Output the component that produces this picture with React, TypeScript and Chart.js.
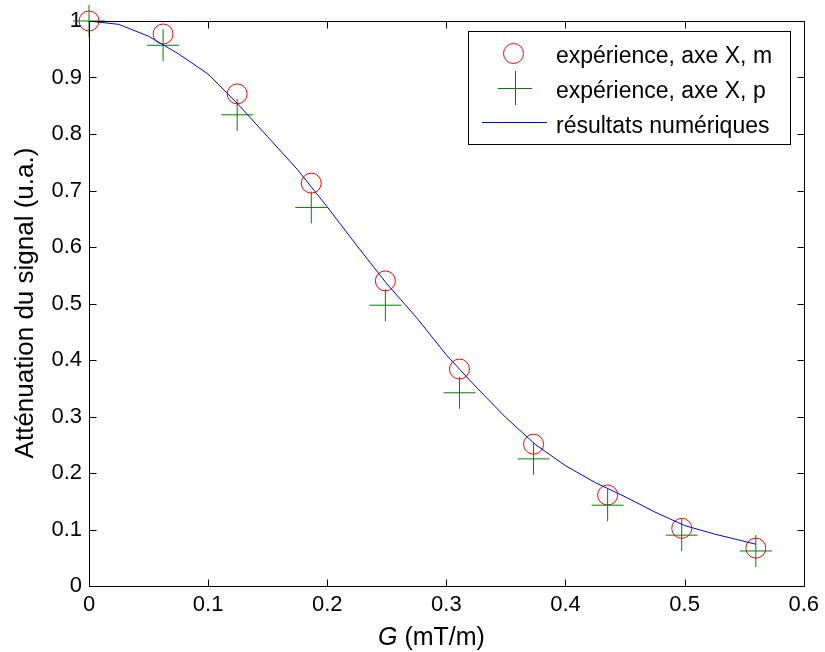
import React, { useEffect, useRef } from "react";
import { Chart, registerables } from "chart.js";

Chart.register(...registerables);

// ---- Data ----
const gValues = [0, 0.0622, 0.1244, 0.1866, 0.2488, 0.311, 0.3732, 0.4354, 0.4976, 0.5598];
const expM = [1.0, 0.977, 0.871, 0.713, 0.54, 0.384, 0.251, 0.161, 0.102, 0.067];
const expP = [1.0, 0.957, 0.834, 0.67, 0.497, 0.342, 0.225, 0.143, 0.09, 0.062];

const simG = [0, 0.025, 0.05, 0.075, 0.1, 0.125, 0.15, 0.175, 0.2, 0.225, 0.25, 0.275, 0.3, 0.325, 0.35, 0.375, 0.4, 0.425, 0.45, 0.475, 0.5, 0.525, 0.5598];
const simVal = [1.0, 0.994, 0.973, 0.942, 0.906, 0.853, 0.795, 0.737, 0.671, 0.602, 0.535, 0.475, 0.409, 0.352, 0.298, 0.25, 0.213, 0.183, 0.158, 0.131, 0.107, 0.092, 0.074];

const xTicks = [0, 0.1, 0.2, 0.3, 0.4, 0.5, 0.6];
const yTicks = [0, 0.1, 0.2, 0.3, 0.4, 0.5, 0.6, 0.7, 0.8, 0.9, 1];

const seriesLabels = ["expérience, axe X, m", "expérience, axe X, p", "résultats numériques"];
const xTitleItalic = "G";
const xTitleRest = " (mT/m)";
const yTitle = "Atténuation du signal (u.a.)";

const FONT = "'Liberation Sans', Arial, Helvetica, sans-serif";
const RED = "#ff0000";
const GREEN = "#008000";
const BLUE = "#0000ff";

const fmt = (v: number) => String(Math.round(v * 10) / 10);

const matlabPlugin = {
  id: "matlabDecor",
  afterDraw(chart: any) {
    const { ctx, chartArea: a, scales } = chart;
    const xs = scales.x;
    const ys = scales.y;
    const L = Math.round(a.left) + 0.5;
    const R = Math.round(a.right) + 0.5;
    const T = Math.round(a.top) + 0.5;
    const B = Math.round(a.bottom) + 0.5;
    const tl = 7;
    ctx.save();
    ctx.strokeStyle = "#000";
    ctx.lineWidth = 1;
    ctx.beginPath();
    ctx.rect(L, T, R - L, B - T);
    xTicks.forEach((v) => {
      const px = Math.round(xs.getPixelForValue(v)) + 0.5;
      ctx.moveTo(px, B);
      ctx.lineTo(px, B - tl);
      ctx.moveTo(px, T);
      ctx.lineTo(px, T + tl);
    });
    yTicks.forEach((v) => {
      const py = Math.round(ys.getPixelForValue(v)) + 0.5;
      ctx.moveTo(L, py);
      ctx.lineTo(L + tl, py);
      ctx.moveTo(R, py);
      ctx.lineTo(R - tl, py);
    });
    ctx.stroke();

    // Legend box
    const lx = 468.5, ly = 31.5, lw = 322, lh = 113;
    ctx.fillStyle = "#fff";
    ctx.fillRect(lx, ly, lw, lh);
    ctx.strokeStyle = "#000";
    ctx.strokeRect(lx, ly, lw, lh);

    // symbols
    ctx.lineWidth = 1;
    ctx.strokeStyle = RED;
    ctx.beginPath();
    ctx.arc(513.5, 53.5, 10, 0, Math.PI * 2);
    ctx.stroke();

    ctx.strokeStyle = GREEN;
    ctx.beginPath();
    ctx.moveTo(498, 88.5);
    ctx.lineTo(532, 88.5);
    ctx.moveTo(515.5, 71);
    ctx.lineTo(515.5, 105);
    ctx.stroke();

    ctx.strokeStyle = BLUE;
    ctx.beginPath();
    ctx.moveTo(482, 122.5);
    ctx.lineTo(547, 122.5);
    ctx.stroke();

    ctx.fillStyle = "#000";
    ctx.font = `23px ${FONT}`;
    ctx.textAlign = "left";
    ctx.textBaseline = "alphabetic";
    ctx.fillText(seriesLabels[0], 556, 62.5);
    ctx.fillText(seriesLabels[1], 556, 97.5);
    ctx.fillText(seriesLabels[2], 556, 132.5);

    // X title
    ctx.font = `italic 25px ${FONT}`;
    ctx.fillText(xTitleItalic, 378, 645);
    const gw = ctx.measureText(xTitleItalic).width;
    ctx.font = `25px ${FONT}`;
    ctx.fillText(xTitleRest, 378 + gw, 645);

    // Y title
    ctx.save();
    ctx.translate(33, 303);
    ctx.rotate(-Math.PI / 2);
    ctx.textAlign = "center";
    ctx.font = `26px ${FONT}`;
    ctx.fillText(yTitle, 0, 0);
    ctx.restore();

    ctx.restore();
  },
};

export default function App() {
  const canvasRef = useRef<HTMLCanvasElement | null>(null);

  useEffect(() => {
    document.body.style.margin = "0";
    const canvas = canvasRef.current;
    if (!canvas) return;

    const chart = new Chart(canvas, {
      type: "line",
      data: {
        datasets: [
          {
            label: seriesLabels[0],
            data: gValues.map((g, i) => ({ x: g, y: expM[i] })),
            showLine: false,
            pointStyle: "circle",
            pointRadius: 10,
            pointBorderColor: RED,
            pointBackgroundColor: "rgba(0,0,0,0)",
            pointBorderWidth: 1,
            borderColor: RED,
            clip: false,
            order: 3,
          },
          {
            label: seriesLabels[1],
            data: gValues.map((g, i) => ({ x: g, y: expP[i] })),
            showLine: false,
            pointStyle: "cross",
            pointRadius: 16,
            pointBorderColor: GREEN,
            pointBorderWidth: 1,
            borderColor: GREEN,
            clip: false,
            order: 2,
          },
          {
            label: seriesLabels[2],
            data: simG.map((g, i) => ({ x: g, y: simVal[i] })),
            showLine: true,
            borderColor: BLUE,
            borderWidth: 1,
            pointRadius: 0,
            tension: 0,
            fill: false,
            order: 1,
          },
        ],
      },
      options: {
        responsive: false,
        animation: false,
        events: [],
        layout: { padding: { top: 21, right: 20, left: 0, bottom: 0 } },
        plugins: {
          legend: { display: false },
          tooltip: { enabled: false },
          title: { display: false },
        },
        scales: {
          x: {
            type: "linear",
            min: 0,
            max: 0.6,
            afterBuildTicks: (s: any) => {
              s.ticks = xTicks.map((v) => ({ value: v }));
            },
            afterFit: (s: any) => {
              s.height = 66;
            },
            grid: { display: false, drawTicks: false },
            border: { display: false },
            ticks: {
              padding: 6,
              autoSkip: false,
              maxRotation: 0,
              color: "#000",
              font: { family: FONT, size: 22 },
              callback: (v: any) => fmt(Number(v)),
            },
          },
          y: {
            type: "linear",
            min: 0,
            max: 1,
            afterBuildTicks: (s: any) => {
              s.ticks = yTicks.map((v) => ({ value: v }));
            },
            afterFit: (s: any) => {
              s.width = 89;
            },
            grid: { display: false, drawTicks: false },
            border: { display: false },
            ticks: {
              padding: 7,
              autoSkip: false,
              color: "#000",
              font: { family: FONT, size: 22 },
              callback: (v: any) => fmt(Number(v)),
            },
          },
        },
      },
      plugins: [matlabPlugin],
    });

    return () => {
      chart.destroy();
    };
  }, []);

  return (
    <div style={{ width: 825, height: 652, background: "#fff" }}>
      <canvas ref={canvasRef} width={825} height={652} style={{ display: "block" }} />
    </div>
  );
}
